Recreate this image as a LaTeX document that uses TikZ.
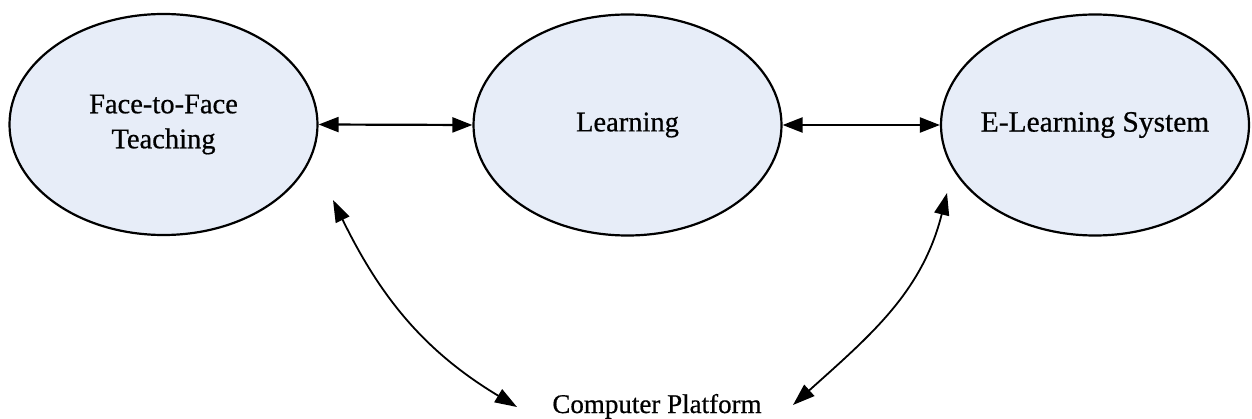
\documentclass[tikz,border=0pt]{standalone}
\usepackage{fontspec}
\setmainfont{Liberation Serif}[FakeBold=0.6]
\usetikzlibrary{shapes.geometric,arrows.meta,calc}
\definecolor{ellfill}{RGB}{231,237,248}
\begin{document}
\begin{tikzpicture}[x=1pt,y=1pt,
  bubble/.style={ellipse, draw=black, line width=2.2pt, fill=ellfill,
    minimum width=308pt, minimum height=221pt, inner sep=0pt,
    align=center, font=\fontsize{28.5}{35}\selectfont},
  label/.style={font=\fontsize{27}{33}\selectfont, inner sep=0pt},
  biarrow/.style={line width=2.2pt, {Triangle[length=20pt,width=15pt]}-{Triangle[length=20pt,width=15pt]}},
  curvarrow/.style={line width=1.8pt, {Triangle[length=22pt,width=15pt]}-{Triangle[length=22pt,width=15pt]}}]
\useasboundingbox (0,0) rectangle (1252,-419);
\node[bubble] (ftf) at (163.5,-124.5) {Face-to-Face\\Teaching};
\node[bubble] (lrn) at (627.5,-125) {Learning};
\node[bubble] (els) at (1095,-125) {\makebox[0pt]{\fontsize{29.5}{35}\selectfont E-Learning System}};
\node[label, anchor=base] (cp) at (657,-413) {Computer Platform};
\coordinate (ftfp) at ($(ftf.center)+(169.5,-75.5)$);
\coordinate (elsp) at ($(els.center)+(-148,-68)$);
\coordinate (cpl) at ($(cp.base)+(-140,6)$);
\coordinate (cpr) at ($(cp.base)+(136,8)$);
\draw[biarrow] (ftf.east) -- (lrn.west);
\draw[biarrow] (lrn.east) -- (els.west);
\draw[curvarrow] (ftfp) to[out=-64,in=149] (cpl);
\draw[curvarrow] (elsp) to[out=-104,in=42] (cpr);
\end{tikzpicture}
\end{document}
